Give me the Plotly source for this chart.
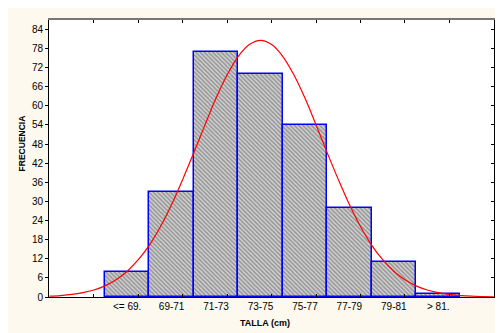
import plotly.graph_objects as go

# Histogram data
bin_centers = [68, 70, 72, 74, 76, 78, 80, 82]
bin_labels = ["<= 69.", "69-71", "71-73", "73-75", "75-77", "77-79", "79-81", "> 81."]
frequencies = [8, 33, 77, 70, 54, 28, 11, 1]

# Fitted normal curve, values at each half cm
curve_x = [64.5 + 0.5 * i for i in range(41)]
curve_y = [0.25, 0.46, 0.80, 1.36, 2.2, 3.5, 5.4, 8.1, 11.7, 16.3, 22.1, 29.0, 36.9,
           45.3, 54.0, 62.4, 69.7, 75.5, 79.2, 80.5, 79.2, 75.5, 69.7, 62.4, 54.0,
           45.3, 36.9, 29.0, 22.1, 16.3, 11.7, 8.1, 5.4, 3.5, 2.2, 1.36, 0.80, 0.46,
           0.25, 0.14, 0.07]

y_ticks = list(range(0, 85, 6))
x_minor_ticks = [66.5, 68.5, 70.5, 72.5, 74.5, 76.5, 78.5, 80.5, 82.5]

X_RANGE = [64.48, 84.51]
Y_RANGE = [0, 86.9]
FONT = "Liberation Sans, Arial, sans-serif"

fig = go.Figure()
fig.add_trace(go.Bar(
    x=bin_centers, y=frequencies, width=2,
    marker=dict(color="#a8a8a8",
                line=dict(color="#0000ff", width=1.5),
                pattern=dict(shape="\\", fgcolor="#555555", bgcolor="#d2d2d2",
                             size=3, solidity=0.5)),
    showlegend=False, hoverinfo="y",
))
fig.add_trace(go.Scatter(
    x=curve_x, y=curve_y, mode="lines", line=dict(color="#ff0000", width=1.2, shape="spline"),
    xaxis="x2", yaxis="y2", showlegend=False,
))

fig.update_layout(
    width=503, height=333,
    margin=dict(l=41, r=17, t=12, b=44, autoexpand=False),
    paper_bgcolor="#fdf9ee", plot_bgcolor="#ffffff",
    font=dict(family=FONT, size=10, color="#000000"),
    bargap=0,
    xaxis=dict(range=X_RANGE, tickmode="array", tickvals=bin_centers, ticktext=bin_labels,
               ticks="", showgrid=False, zeroline=False, showline=True, linecolor="#000000",
               linewidth=1, tickfont=dict(size=10), automargin=False,
               minor=dict(tickmode="array", tickvals=x_minor_ticks, ticks="inside",
                          ticklen=3, tickcolor="#000000", showgrid=False)),
    xaxis2=dict(range=X_RANGE, overlaying="x", side="top", tickmode="array",
                tickvals=x_minor_ticks, ticks="inside", ticklen=3, tickcolor="#000000",
                showticklabels=False, showgrid=False, zeroline=False, automargin=False,
                showline=True, linecolor="#777777", linewidth=2),
    yaxis=dict(range=Y_RANGE, tickmode="array", tickvals=y_ticks, ticks="outside",
               ticklen=3, tickcolor="#000000", showgrid=False, zeroline=False,
               showline=True, linecolor="#000000", linewidth=1, tickfont=dict(size=10),
               automargin=False),
    yaxis2=dict(range=Y_RANGE, overlaying="y", side="right", tickmode="array",
                tickvals=y_ticks, ticks="inside", ticklen=3, tickcolor="#000000",
                showticklabels=False, showgrid=False, zeroline=False, automargin=False,
                showline=True, linecolor="#000000", linewidth=1.5),
    annotations=[
        dict(text="<b>TALLA (cm)</b>", xref="paper", yref="paper", x=0.485, y=-0.095,
             xanchor="center", yanchor="middle", showarrow=False, font=dict(size=9)),
        dict(text="<b>FRECUENCIA</b>", xref="paper", yref="paper", x=-0.061, y=0.554,
             xanchor="center", yanchor="middle", showarrow=False, textangle=-90,
             font=dict(size=8.5)),
    ],
)

fig.write_html("out.html")
